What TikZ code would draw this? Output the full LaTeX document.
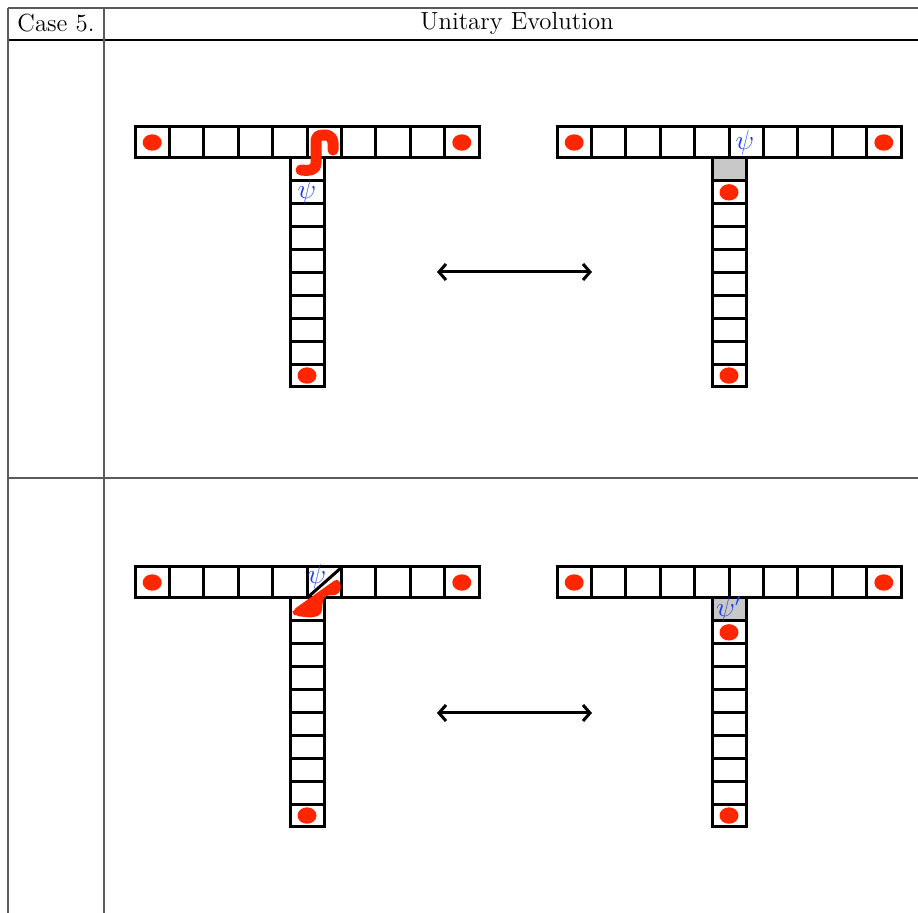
\documentclass[tikz,border=0pt]{standalone}
\usetikzlibrary{arrows.meta,shapes.geometric}
\definecolor{dotred}{RGB}{255,38,0}
\definecolor{psiblue}{RGB}{25,60,230}
\definecolor{cellgray}{RGB}{200,200,200}
\definecolor{rulegray}{RGB}{90,90,90}
\tikzset{
  hcell/.style={draw=black,line width=1.5pt,minimum width=17.2pt,minimum height=15.5pt,inner sep=0pt,outer sep=0pt},
  vcell/.style={draw=black,line width=1.5pt,minimum width=17pt,minimum height=11.45pt,inner sep=0pt,outer sep=0pt},
  graycell/.style={vcell,fill=cellgray},
  reddot/.style={ellipse,fill=dotred,minimum width=9.5pt,minimum height=8.2pt,inner sep=0pt},
  psilab/.style={text=psiblue,inner sep=0pt,scale=1.15,font=\fontsize{12}{14}\selectfont},
  rulel/.style={line width=0.6pt,draw=rulegray},
  hdr/.style={font=\fontsize{12.4}{14}\selectfont,inner sep=0pt},
  dblarrow/.style={line width=1.5pt,{Straight Barb[length=3.5pt,width=8pt]}-{Straight Barb[length=3.5pt,width=8pt]}},
  redblob/.style={fill=dotred,draw=dotred,line width=0.8pt,line join=round}
}
\newcommand\Tshape[3]{%
  \foreach \i in {1,...,10} {
    \node[hcell] (#1h\i) at ({#2+34.4*(\i-0.5)},{#3+15.5}) {};
  }
  \foreach \j in {1,...,10} {
    \node[vcell] (#1v\j) at ({#2+172},{#3+31+22.9*(\j-0.5)}) {};
  }
  \node[reddot] (#1da) at (#1h1) {};
  \node[reddot] (#1db) at (#1h10) {};
  \node[reddot] (#1dc) at (#1v10) {};
}
\begin{document}
\begin{tikzpicture}[x=0.5pt,y=-0.5pt]
\useasboundingbox (0,0) rectangle (918,913);
% table rules
\coordinate (tl) at (8,8);
\coordinate (tr) at (918,8);
\coordinate (hl) at (8,40);
\coordinate (hr) at (918,40);
\coordinate (rl) at (8,478);
\coordinate (rr) at (918,478);
\coordinate (bl) at (8,913);
\coordinate (ct) at (104,8);
\coordinate (cb) at (104,913);
\draw[rulel] (tl) -- (tr);
\draw[line width=0.6pt] (hl) -- (hr);
\draw[rulel] (rl) -- (rr);
\draw[rulel] (tl) -- (bl);
\draw[rulel] (ct) -- (cb);
\node[hdr] (case) at (56,23) {Case 5.};
\node[hdr] (unit) at (517,23) {Unitary Evolution};

% ---------- Top row ----------
\Tshape{A}{135}{127}
\Tshape{B}{557}{127}
\node[graycell] (Bg) at (Bv1) {};
\node[reddot] (Bdd) at (Bv2) {};
\node[psilab] (Bpsi) at (745,143) {$\psi$};
\node[psilab] (Apsi) at (307,192) {$\psi$};
\coordinate (Sa) at (333,150);
\coordinate (Sm) at (324,135);
\coordinate (Sb) at (316,144);
\coordinate (Sc) at (316,163);
\coordinate (Sd) at (301,170);
\draw[dotred,line width=5.5pt,line cap=round,line join=round]
  (Sa) .. controls (334,138) and (331,135) .. (Sm) .. controls (317,135) and (316,137) .. (Sb) -- (Sc) .. controls (316,171) and (308,171) .. (Sd);
\coordinate (aL1) at (437,272);
\coordinate (aR1) at (592,272);
\draw[dblarrow] (aL1) -- (aR1);

% ---------- Bottom row ----------
\Tshape{C}{135}{567}
\Tshape{D}{557}{567}
\node[graycell] (Dg) at (Dv1) {};
\node[reddot] (Ddd) at (Dv2) {};
\node[psilab] (Dpsi) at (729,609) {$\psi'$};
\coordinate (Ra) at (293,611);
\coordinate (Rb) at (338,579);
\coordinate (Rc) at (341,589);
\coordinate (Rd) at (336,595);
\coordinate (Re) at (326,594);
\coordinate (Rf) at (322,600);
\coordinate (Rg) at (321,614);
\coordinate (Rh) at (312,617);
\coordinate (Ri) at (295,615);
\fill[redblob,rounded corners=2pt] (Ra) -- (Rb) -- (Rc) -- (Rd) -- (Re) -- (Rf) -- (Rg) -- (Rh) -- (Ri) -- cycle;
\coordinate (Ga) at (307,598);
\coordinate (Gb) at (342,567);
\draw[line width=1.5pt] (Ga) -- (Gb);
\node[psilab] (Cpsi) at (317,577) {$\psi$};
\coordinate (aL2) at (437,713);
\coordinate (aR2) at (592,713);
\draw[dblarrow] (aL2) -- (aR2);
\end{tikzpicture}
\end{document}
